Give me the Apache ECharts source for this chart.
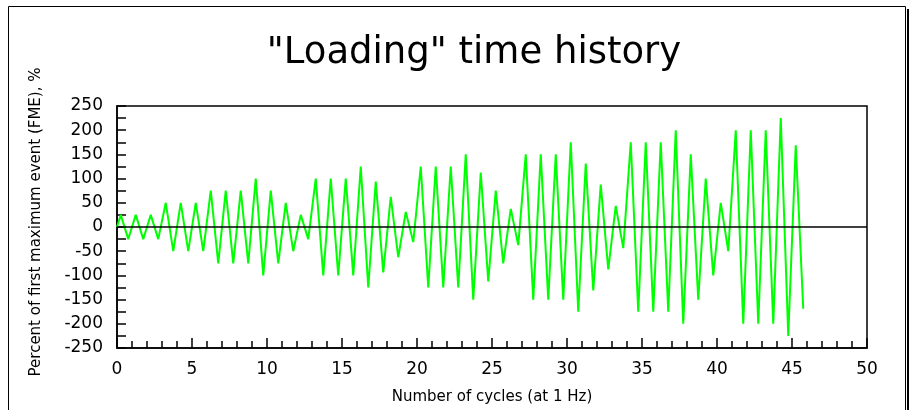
<!DOCTYPE html>
<html>
<head>
<meta charset="utf-8">
<title>Loading time history</title>
<script src="https://cdn.jsdelivr.net/npm/echarts@6/dist/echarts.min.js"></script>
<style>
    html, body { margin: 0; padding: 0; background: #fff; }
    #chartLoad { width: 912px; height: 410px; }
</style>
</head>
<body>
<div id="chartLoad"></div>
<script>
    // time of each turning point, in cycles (1 Hz)
    var cycleX = [0, 0.25, 0.75, 1.25, 1.75, 2.25, 2.75, 3.25, 3.75, 4.25, 4.75,
        5.25, 5.75, 6.25, 6.75, 7.25, 7.75, 8.25, 8.75, 9.25, 9.75,
        10.25, 10.75, 11.25, 11.75, 12.25, 12.75, 13.25, 13.75, 14.25, 14.75,
        15.25, 15.75, 16.25, 16.75, 17.25, 17.75, 18.25, 18.75, 19.25, 19.75,
        20.25, 20.75, 21.25, 21.75, 22.25, 22.75, 23.25, 23.75, 24.25, 24.75,
        25.25, 25.75, 26.25, 26.75, 27.25, 27.75, 28.25, 28.75, 29.25, 29.75,
        30.25, 30.75, 31.25, 31.75, 32.25, 32.75, 33.25, 33.75, 34.25, 34.75,
        35.25, 35.75, 36.25, 36.75, 37.25, 37.75, 38.25, 38.75, 39.25, 39.75,
        40.25, 40.75, 41.25, 41.75, 42.25, 42.75, 43.25, 43.75, 44.25, 44.75,
        45.25, 45.75];
    // load in percent of FME at each turning point
    var loadPct = [0, 25, -25, 25, -25, 25, -25, 50, -50, 50, -50,
        50, -50, 75, -75, 75, -75, 75, -75, 100, -100,
        75, -75, 50, -50, 25, -25, 100, -100, 100, -100,
        100, -100, 125, -125, 93.75, -93.75, 62.5, -62.5, 31.25, -31.25,
        125, -125, 125, -125, 125, -125, 150, -150, 112.5, -112.5,
        75, -75, 37.5, -37.5, 150, -150, 150, -150, 150, -150,
        175, -175, 131.25, -131.25, 87.5, -87.5, 43.75, -43.75, 175, -175,
        175, -175, 175, -175, 200, -200, 150, -150, 100, -100,
        50, -50, 200, -200, 200, -200, 200, -200, 225, -225,
        168.75, -168.75];
    var xTicks = [0, 5, 10, 15, 20, 25, 30, 35, 40, 45, 50];
    var yTicks = [-250, -200, -150, -100, -50, 0, 50, 100, 150, 200, 250];

    var font = 'DejaVu Sans';
    var points = cycleX.map(function (x, i) { return [x, loadPct[i]]; });

    var chartLoad = echarts.init(document.getElementById('chartLoad'), null, { renderer: 'canvas' });
    chartLoad.setOption({
        animation: false,
        backgroundColor: '#fff',
        title: {
            text: '"Loading" time history',
            left: 469,
            top: 30,
            textAlign: 'center',
            textStyle: { fontFamily: font, fontSize: 37, fontWeight: 'normal', color: '#000' }
        },
        graphic: [
            // outer frame with its shadow line on the right
            { type: 'rect', shape: { x: 8.5, y: 6.5, width: 897, height: 420 },
              style: { fill: null, stroke: '#000', lineWidth: 1 }, silent: true },
            { type: 'line', shape: { x1: 908, y1: 9, x2: 908, y2: 420 },
              style: { stroke: '#000', lineWidth: 2 }, silent: true },
            { type: 'text', x: 36, y: 222, rotation: Math.PI / 2,
              style: { text: 'Percent of first maximum event (FME), %', fontFamily: font, fontSize: 15,
                       fill: '#000', align: 'center', verticalAlign: 'middle' } }
        ],
        grid: {
            left: 117, right: 45, top: 106, bottom: 60,
            show: true, borderColor: '#000', borderWidth: 1.5, backgroundColor: '#fff'
        },
        xAxis: {
            type: 'value',
            min: xTicks[0],
            max: xTicks[xTicks.length - 1],
            interval: 5,
            name: 'Number of cycles (at 1 Hz)',
            nameLocation: 'middle',
            nameGap: 42,
            nameTextStyle: { fontFamily: font, fontSize: 15, color: '#000' },
            axisLine: { onZero: false, lineStyle: { color: '#000', width: 1.5 } },
            axisTick: { inside: true, length: 10, lineStyle: { color: '#000', width: 1.5 } },
            minorTick: { show: true, splitNumber: 5, length: 7, lineStyle: { color: '#000', width: 1.5 } },
            axisLabel: { margin: 13, fontFamily: font, fontSize: 17, color: '#000' },
            splitLine: { show: false }
        },
        yAxis: {
            type: 'value',
            min: yTicks[0],
            max: yTicks[yTicks.length - 1],
            interval: 50,
            axisLine: { show: true, onZero: false, lineStyle: { color: '#000', width: 1.5 } },
            axisTick: { show: true, inside: true, length: 9, lineStyle: { color: '#000', width: 1.5 } },
            minorTick: { show: true, splitNumber: 2, length: 9, lineStyle: { color: '#000', width: 1.5 } },
            axisLabel: { margin: 14, fontFamily: font, fontSize: 17, color: '#000' },
            splitLine: { show: false }
        },
        series: [{
            name: 'Load',
            type: 'line',
            data: points,
            showSymbol: false,
            symbol: 'none',
            lineStyle: { color: '#00ff00', width: 2 },
            markLine: {
                silent: true,
                symbol: 'none',
                label: { show: false },
                lineStyle: { color: '#000', width: 1.5, type: 'solid' },
                data: [{ yAxis: 0 }]
            },
            z: 3
        }]
    });
</script>
</body>
</html>
